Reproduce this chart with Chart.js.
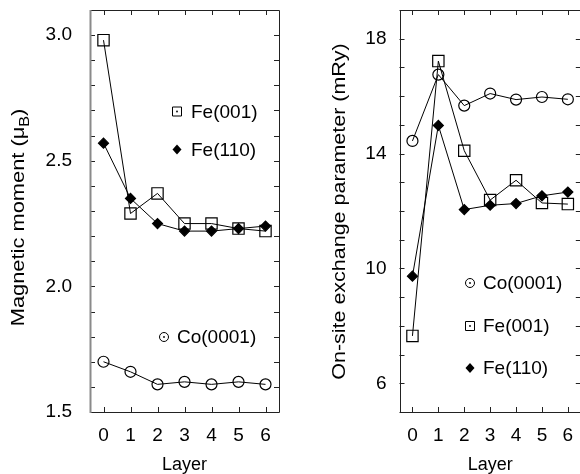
<!DOCTYPE html>
<html>
<head>
<meta charset="utf-8">
<script src="https://cdn.jsdelivr.net/npm/chart.js@4.4.1/dist/chart.umd.min.js"></script>
<style>
html,body{margin:0;padding:0;background:#fff;overflow:hidden;width:580px;height:474px}
canvas{position:absolute;top:0}
#left{left:0}
#right{left:290px}
</style>
</head>
<body>
<canvas id="left" width="290" height="474"></canvas>
<canvas id="right" width="300" height="474"></canvas>
<script>
const layers = [0, 1, 2, 3, 4, 5, 6]

// magnetic moment (muB) per layer
const momentFe001 = [2.98, 2.29, 2.37, 2.25, 2.25, 2.23, 2.22]
const momentFe110 = [2.57, 2.35, 2.25, 2.22, 2.22, 2.23, 2.24]
const momentCo0001 = [1.70, 1.66, 1.61, 1.62, 1.61, 1.62, 1.61]

// on-site exchange parameter (mRy) per layer
const exchCo0001 = [14.44, 16.75, 15.67, 16.09, 15.88, 15.97, 15.89]
const exchFe001 = [7.65, 17.22, 14.10, 12.38, 13.07, 12.28, 12.24]
const exchFe110 = [9.73, 14.98, 12.05, 12.20, 12.26, 12.53, 12.66]

// labelled y ticks
const momentTickLabels = [1.5, 2.0, 2.5, 3.0]
const exchTickLabels = [6, 10, 14, 18]

const FONT = '"Liberation Sans", Arial, Helvetica, sans-serif'
Chart.defaults.font.family = FONT
Chart.defaults.color = '#000'

const styles = {
  "Co(0001)": {pointStyle: 'circle', radius: 5.5, filled: false},
  "Fe(001)": {pointStyle: 'rect', radius: 8, filled: false},
  "Fe(110)": {pointStyle: 'rectRot', radius: 5, filled: true}
}

function dataset(label, values){
  const s = styles[label]
  return {
    label: label,
    data: layers.map((x, i) => ({x: x, y: values[i]})),
    borderColor: '#000',
    borderWidth: 1,
    pointStyle: s.pointStyle,
    pointRadius: s.radius,
    pointBackgroundColor: s.filled ? '#000' : 'rgba(0,0,0,0)',
    pointBorderColor: '#000',
    pointBorderWidth: 1.2,
    fill: false,
    tension: 0
  }
}

// frame with inward tick marks on all four sides
const framePlugin = {
  id: 'frame',
  afterDraw(chart, args, opts){
    const {ctx, chartArea: a, scales} = chart
    ctx.save()
    ctx.strokeStyle = '#222'
    ctx.lineWidth = 1
    ctx.beginPath()
    scales.y.ticks.forEach(t => {
      const y = Math.round(scales.y.getPixelForValue(t.value)) + 0.5
      ctx.moveTo(a.left, y); ctx.lineTo(a.left + 5, y)
      ctx.moveTo(a.right, y); ctx.lineTo(a.right - 5, y)
    })
    scales.x.ticks.forEach(t => {
      const x = Math.round(scales.x.getPixelForValue(t.value)) + 0.5
      ctx.moveTo(x, a.bottom); ctx.lineTo(x, a.bottom - 5)
      ctx.moveTo(x, a.top); ctx.lineTo(x, a.top + 5)
    })
    ctx.stroke()
    const l = Math.round(a.left) + 0.5, r = Math.round(a.right) + 0.5
    const t = Math.round(a.top) + 0.5, b = Math.round(a.bottom) + 0.5
    ctx.beginPath()
    ctx.moveTo(l, t); ctx.lineTo(r, t); ctx.lineTo(r, b); ctx.lineTo(l, b)
    if (!opts.greyLeft) ctx.lineTo(l, t)
    ctx.stroke()
    if (opts.greyLeft){
      ctx.strokeStyle = '#8a8a8a'
      ctx.lineWidth = 2
      ctx.beginPath()
      ctx.moveTo(l, t - 0.5); ctx.lineTo(l, b + 0.5)
      ctx.stroke()
    }
    ctx.restore()
  }
}

// rotated y title, optionally with a subscript
const yTitlePlugin = {
  id: 'ytitle',
  afterDraw(chart, args, o){
    const ctx = chart.ctx
    ctx.save()
    ctx.fillStyle = '#000'
    ctx.textBaseline = 'alphabetic'
    ctx.translate(o.x, o.y)
    ctx.rotate(-Math.PI / 2)
    ctx.scale(o.stretch, 1)
    const big = '19px ' + FONT, small = '14px ' + FONT
    ctx.font = big
    const w1 = ctx.measureText(o.text).width
    const w3 = o.tail ? ctx.measureText(o.tail).width : 0
    ctx.font = small
    const w2 = o.sub ? ctx.measureText(o.sub).width : 0
    let x = -(w1 + w2 + w3) / 2
    ctx.font = big
    ctx.fillText(o.text, x, 0)
    x += w1
    if (o.sub){
      ctx.font = small
      ctx.fillText(o.sub, x, 5)
      x += w2
    }
    if (o.tail){
      ctx.font = big
      ctx.fillText(o.tail, x, 0)
    }
    ctx.restore()
  }
}

// legend entries placed inside the plot
const keyPlugin = {
  id: 'key',
  afterDraw(chart, args, o){
    const ctx = chart.ctx
    ctx.save()
    ctx.strokeStyle = '#000'
    ctx.fillStyle = '#000'
    ctx.lineWidth = 1
    o.entries.forEach(e => {
      const s = styles[e.label]
      const x = e.x, y = e.y
      ctx.beginPath()
      if (s.pointStyle === 'circle'){
        ctx.arc(x, y, 4.5, 0, Math.PI * 2)
        ctx.stroke()
      } else if (s.pointStyle === 'rect'){
        ctx.rect(x - 4.5, y - 4.5, 9, 9)
        ctx.stroke()
      } else {
        ctx.moveTo(x, y - 5); ctx.lineTo(x + 4.5, y); ctx.lineTo(x, y + 5); ctx.lineTo(x - 4.5, y)
        ctx.closePath()
        ctx.fill()
      }
      if (!s.filled){
        ctx.beginPath()
        ctx.arc(x, y, 0.9, 0, Math.PI * 2)
        ctx.fill()
      }
      ctx.font = '19px ' + FONT
      ctx.textBaseline = 'middle'
      ctx.fillText(e.label, e.tx, y + 1)
    })
    ctx.restore()
  }
}

function makeChart(id, cfg){
  return new Chart(document.getElementById(id), {
    type: 'line',
    data: {datasets: cfg.datasets},
    options: {
      responsive: false,
      animation: false,
      devicePixelRatio: 1,
      layout: {padding: cfg.padding},
      plugins: {
        legend: {display: false},
        tooltip: {enabled: false},
        frame: {greyLeft: cfg.greyLeft},
        ytitle: cfg.ytitle,
        key: {entries: cfg.key}
      },
      scales: {
        x: {
          type: 'linear',
          min: -0.5,
          max: 6.5,
          afterBuildTicks: s => { s.ticks = layers.map(v => ({value: v})) },
          afterFit: s => { s.height = 62; s.paddingLeft = 0; s.paddingRight = 0 },
          grid: {display: false},
          border: {display: false},
          ticks: {font: {size: 19}, padding: 4, autoSkip: false, maxRotation: 0, callback: v => String(v)},
          title: {display: true, text: 'Layer', font: {size: 18}, padding: {top: 0, bottom: -2}}
        },
        y: {
          type: 'linear',
          min: cfg.ymin,
          max: cfg.ymax,
          afterFit: s => { s.width = cfg.yWidth; s.paddingTop = 0; s.paddingBottom = 0 },
          grid: {display: false},
          border: {display: false},
          ticks: {
            stepSize: cfg.step,
            autoSkip: false,
            font: {size: 19},
            padding: cfg.tickPad,
            callback: v => cfg.labels.some(l => Math.abs(l - v) < 1e-6) ? cfg.fmt(v) : ''
          }
        }
      }
    },
    plugins: [framePlugin, yTitlePlugin, keyPlugin]
  })
}

makeChart('left', {
  datasets: [
    dataset('Fe(001)', momentFe001),
    dataset('Fe(110)', momentFe110),
    dataset('Co(0001)', momentCo0001)
  ],
  padding: {top: 10, right: 11, bottom: 0, left: 0},
  greyLeft: true,
  ymin: 1.5, ymax: 3.1, step: 0.1,
  labels: momentTickLabels,
  fmt: v => v.toFixed(1),
  yWidth: 90,
  tickPad: 10,
  ytitle: {text: 'Magnetic moment (μ', sub: 'B', tail: ')', x: 23.5, y: 217.5, stretch: 1.15},
  key: [
    {label: 'Fe(001)', x: 177, y: 111.5, tx: 191},
    {label: 'Fe(110)', x: 177, y: 149.5, tx: 191},
    {label: 'Co(0001)', x: 164, y: 337, tx: 177}
  ]
})

makeChart('right', {
  datasets: [
    dataset('Co(0001)', exchCo0001),
    dataset('Fe(001)', exchFe001),
    dataset('Fe(110)', exchFe110)
  ],
  padding: {top: 10, right: 6, bottom: 0, left: 0},
  greyLeft: false,
  ymin: 5, ymax: 19, step: 1,
  labels: exchTickLabels,
  fmt: v => String(v),
  yWidth: 109.5,
  tickPad: 5,
  ytitle: {text: 'On-site exchange parameter (mRy)', x: 55, y: 211.5, stretch: 1.13},
  key: [
    {label: 'Co(0001)', x: 180, y: 283, tx: 193},
    {label: 'Fe(001)', x: 180, y: 326, tx: 193},
    {label: 'Fe(110)', x: 180, y: 368, tx: 193}
  ]
})
</script>
</body>
</html>
